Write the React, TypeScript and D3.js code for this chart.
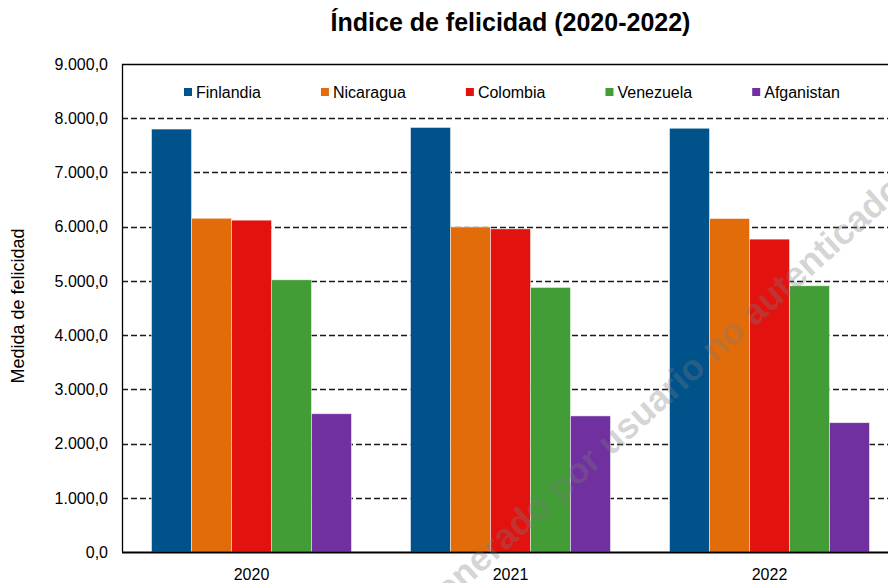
import React, { useEffect, useRef } from "react";
import * as d3 from "d3";

const years = ["2020", "2021", "2022"];
const countries = ["Finlandia", "Nicaragua", "Colombia", "Venezuela", "Afganistan"];
const colors = ["#00538a", "#e36c0a", "#e2130f", "#429d36", "#7030a0"];

// valores por país, en el orden de years
const finlandia = [7800, 7830, 7815];
const nicaragua = [6155, 5995, 6150];
const colombia = [6120, 5960, 5770];
const venezuela = [5020, 4880, 4910];
const afganistan = [2550, 2510, 2385];

const yTicks = [0, 1000, 2000, 3000, 4000, 5000, 6000, 7000, 8000, 9000];

const title = "Índice de felicidad (2020-2022)";
const yLabel = "Medida de felicidad";
const watermark = "Generado por usuario no autenticado";

const FONT = "'Liberation Sans', Arial, sans-serif";

export default function App() {
  const ref = useRef<SVGSVGElement>(null);

  useEffect(() => {
    const W = 888;
    const H = 583;
    const margin = { top: 64, left: 122, bottom: 31 };
    const plotRight = 899;
    const plotBottom = H - margin.bottom;

    const series = [finlandia, nicaragua, colombia, venezuela, afganistan];
    const data = years.map((year, i) => ({
      year,
      values: countries.map((c, j) => ({ country: c, value: series[j][i] })),
    }));

    const svg = d3.select(ref.current);
    svg.selectAll("*").remove();
    svg.attr("width", W).attr("height", H).style("font-family", FONT);

    const x0 = d3
      .scaleBand()
      .domain(years)
      .range([margin.left, plotRight])
      .paddingInner(0.228)
      .paddingOuter(0.114);

    const x1 = d3.scaleBand().domain(countries).range([0, x0.bandwidth()]);

    const y = d3.scaleLinear().domain([0, 9000]).range([plotBottom, margin.top]);
    const fmt = (v: number) => d3.format(",.1f")(v).replace(/,/g, "#").replace(".", ",").replace(/#/g, ".");

    // gridlines
    svg
      .append("g")
      .selectAll("line")
      .data(yTicks.filter((t) => t > 0 && t < 9000))
      .join("line")
      .attr("x1", margin.left)
      .attr("x2", W)
      .attr("y1", (d) => Math.round(y(d)) + 0.5)
      .attr("y2", (d) => Math.round(y(d)) + 0.5)
      .attr("stroke", "#1a1a1a")
      .attr("stroke-width", 1.3)
      .attr("stroke-dasharray", "6,3");

    // bars
    svg
      .append("g")
      .selectAll("g")
      .data(data)
      .join("g")
      .attr("transform", (d) => `translate(${x0(d.year)},0)`)
      .selectAll("rect")
      .data((d) => d.values)
      .join("rect")
      .attr("x", (d) => x1(d.country)!)
      .attr("y", (d) => y(d.value))
      .attr("width", x1.bandwidth())
      .attr("height", (d) => plotBottom - y(d.value))
      .attr("fill", (d, i) => colors[i])
      .attr("stroke", "#ffffff")
      .attr("stroke-opacity", 0.6)
      .attr("stroke-width", 0.8);

    // frame: top line, left axis, bottom axis
    svg
      .append("line")
      .attr("x1", margin.left)
      .attr("x2", W)
      .attr("y1", y(9000) + 0.5)
      .attr("y2", y(9000) + 0.5)
      .attr("stroke", "#000")
      .attr("stroke-width", 1.3);
    svg
      .append("line")
      .attr("x1", margin.left + 0.5)
      .attr("x2", margin.left + 0.5)
      .attr("y1", y(9000))
      .attr("y2", plotBottom)
      .attr("stroke", "#000")
      .attr("stroke-width", 1.3);
    svg
      .append("line")
      .attr("x1", margin.left)
      .attr("x2", W)
      .attr("y1", plotBottom + 0.5)
      .attr("y2", plotBottom + 0.5)
      .attr("stroke", "#000")
      .attr("stroke-width", 2);

    // y tick labels
    svg
      .append("g")
      .selectAll("text")
      .data(yTicks)
      .join("text")
      .attr("x", margin.left - 14)
      .attr("y", (d) => y(d))
      .attr("dy", "0.36em")
      .attr("text-anchor", "end")
      .attr("font-size", 16)
      .attr("fill", "#000")
      .text((d) => fmt(d));

    // x labels
    svg
      .append("g")
      .selectAll("text")
      .data(years)
      .join("text")
      .attr("x", (d) => x0(d)! + x0.bandwidth() / 2)
      .attr("y", plotBottom + 28)
      .attr("text-anchor", "middle")
      .attr("font-size", 16)
      .attr("fill", "#000")
      .text((d) => d);

    // title
    svg
      .append("text")
      .attr("x", (margin.left + plotRight) / 2)
      .attr("y", 31)
      .attr("text-anchor", "middle")
      .attr("font-size", 25)
      .attr("font-weight", "bold")
      .attr("fill", "#000")
      .text(title);

    // y axis label
    svg
      .append("text")
      .attr("transform", `translate(24,${(y(9000) + plotBottom) / 2 - 2}) rotate(-90)`)
      .attr("text-anchor", "middle")
      .attr("font-size", 18)
      .attr("fill", "#000")
      .text(yLabel);

    // legend
    const legend = svg.append("g").attr("transform", "translate(184,92)");
    let lx = 0;
    countries.forEach((c, i) => {
      const g = legend.append("g").attr("transform", `translate(${lx},0)`);
      g.append("rect").attr("x", 0).attr("y", -4).attr("width", 8).attr("height", 8).attr("fill", colors[i]);
      const t = g
        .append("text")
        .attr("x", 12)
        .attr("dy", "0.36em")
        .attr("font-size", 16)
        .attr("fill", "#000")
        .text(c);
      const len = (t.node() as SVGTextElement).getComputedTextLength();
      lx += 12 + len + 60;
    });

    // watermark
    svg
      .append("text")
      .attr("transform", "translate(905,192) rotate(-42)")
      .attr("text-anchor", "end")
      .attr("font-size", 36)
      .attr("font-weight", "bold")
      .attr("fill", "#7a7a7a")
      .attr("fill-opacity", 0.33)
      .text(watermark);
  }, []);

  return (
    <div style={{ position: "absolute", left: 0, top: 0, background: "#fff" }}>
      <svg ref={ref} style={{ display: "block" }} />
    </div>
  );
}
